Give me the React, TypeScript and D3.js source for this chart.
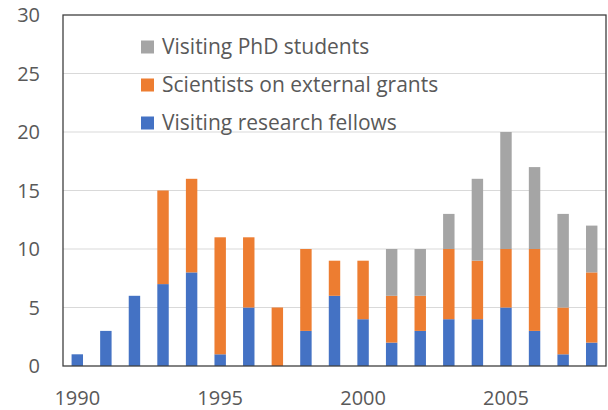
import React from "react";
import * as d3 from "d3";

const years = [1990,1991,1992,1993,1994,1995,1996,1997,1998,1999,2000,2001,2002,2003,2004,2005,2006,2007,2008];
const fellows = [1,3,6,7,8,1,5,0,3,6,4,2,3,4,4,5,3,1,2];
const grants = [0,0,0,8,8,10,6,5,7,3,5,4,3,6,5,5,7,4,6];
const phd = [0,0,0,0,0,0,0,0,0,0,0,4,4,3,7,10,7,8,4];
const yTicks = [0,5,10,15,20,25,30];
const xTickLabels = [1990,1995,2000,2005];
const seriesNames = ["Visiting PhD students","Scientists on external grants","Visiting research fellows"];
const colors: Record<string,string> = {
  fellows: "#4472C4",
  grants: "#ED7D31",
  phd: "#A5A5A5",
};

export default function App() {
  const W = 608, H = 410;
  const left = 63, right = 606, top = 15, bottom = 366;
  const x = d3.scaleBand<number>().domain(years).range([left, right]).paddingInner(0.6).paddingOuter(0.3);
  const y = d3.scaleLinear().domain([0, 30]).range([bottom, top]);
  const data = years.map((yr, i) => ({ year: yr, fellows: fellows[i], grants: grants[i], phd: phd[i] }));
  const stack = d3.stack<any>().keys(["fellows", "grants", "phd"]);
  const series = stack(data);
  const font = "'Open Sans', sans-serif";
  const text = "#595959";
  const legendKeys = ["phd", "grants", "fellows"];
  return (
    <svg width={W} height={H} style={{ position: "absolute", left: 0, top: 0, background: "#fff" }}>
      {yTicks.filter(t => t > 0 && t < 30).map(t => (
        <line key={t} x1={left} x2={right} y1={y(t)} y2={y(t)} stroke="#D9D9D9" strokeWidth={1.2} />
      ))}
      {series.map(s => (
        <g key={s.key} fill={colors[s.key]}>
          {s.map((d, i) => d[1] - d[0] > 0 ? (
            <rect key={i} x={x(years[i])} width={x.bandwidth()} y={y(d[1])} height={y(d[0]) - y(d[1])} />
          ) : null)}
        </g>
      ))}
      <rect x={left} y={top} width={right - left} height={bottom - top} fill="none" stroke="#404040" strokeWidth={1.3} />
      {yTicks.map(t => (
        <text key={t} x={40} y={y(t)} dy="0.35em" textAnchor="end" fontFamily={font} fontSize={20} fill={text}>{t}</text>
      ))}
      {xTickLabels.map(t => (
        <text key={t} x={(x(t) as number) + x.bandwidth() / 2} y={405} textAnchor="middle" fontFamily={font} fontSize={20} fill={text}>{t}</text>
      ))}
      {legendKeys.map((k, i) => (
        <g key={k} transform={`translate(141, ${47 + i * 38})`}>
          <rect x={0} y={-6.5} width={13} height={13} fill={colors[k]} />
          <text x={21} y={0} dy="0.35em" fontFamily={font} fontSize={21} fill={text}>{seriesNames[i]}</text>
        </g>
      ))}
    </svg>
  );
}
